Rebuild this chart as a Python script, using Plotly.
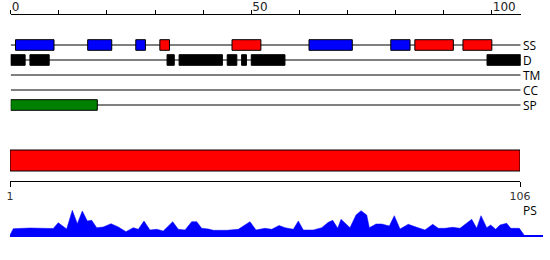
import plotly.graph_objects as go

# ---------------- data ----------------
seq_len = 106

ss_start = [1, 16, 26, 31, 46, 62, 79, 84, 94]
ss_end = [9, 21, 28, 33, 52, 71, 83, 92, 100]
ss_kind = ["B", "B", "B", "R", "R", "B", "B", "R", "R"]

d_start = [0, 4, 32.5, 35, 45, 48, 50, 99]
d_end = [3, 8, 34, 44, 47, 49, 57, 106]

sp_start = [0]
sp_end = [18]

track_names = ["SS", "D", "TM", "CC", "SP"]

domain_start = [1]
domain_end = [106]

top_tickvals = [0, 10, 20, 30, 40, 50, 60, 70, 80, 90, 100]
top_ticktext = ["0", "", "", "", "", "50", "", "", "", "", "100"]
bottom_tickvals = [1, 106]

ps_pos = [1.0, 1.68, 5.1, 8.2, 9.9, 10.94, 12.67, 13.83, 14.86, 15.89, 16.92, 17.82,
          18.85, 20.21, 21.79, 23.3, 24.88, 26.39, 27.42, 28.59, 29.82, 31.2, 32.56,
          34.5, 35.65, 37.03, 38.41, 39.44, 40.47, 41.83, 42.86, 45.62, 48.0, 50.41,
          51.65, 53.5, 54.88, 56.4, 57.62, 59.33, 60.36, 61.39, 63.45, 65.18, 66.54,
          67.44, 68.47, 69.15, 71.0, 72.24, 73.27, 74.44, 74.98, 76.36, 77.53, 79.1,
          80.12, 81.3, 83.0, 84.73, 86.44, 88.03, 89.18, 90.56, 92.14, 93.65, 96.06,
          97.09, 97.97, 99.15, 99.97, 101.0, 101.88, 103.26, 104.09, 105.86, 106.83]
ps_val = [0, 6.3, 7, 6.5, 6.5, 12.3, 6, 24.7, 11.3, 24, 14, 14.7,
          7.3, 8, 11.3, 8, 3.3, 7.3, 5.7, 14, 5, 5.7, 4,
          13.3, 5.7, 5, 13.3, 13.3, 6.7, 6, 4.7, 4.7, 5.7, 13.3,
          5, 6.7, 5.7, 9.5, 7.3, 5.7, 14, 5, 5, 7.3, 12.7,
          14.7, 6.7, 15.7, 7.3, 20, 24.3, 20, 7.3, 11, 11, 9,
          19.3, 6, 10.7, 7.7, 5, 10.7, 6.7, 6.7, 7.7, 6.7, 15.7,
          6.7, 19.3, 7.3, 10, 5.7, 10, 11.7, 6.7, 6.7, 0]

# ---------------- layout constants ----------------
W, H = 550, 260
COLORS = {"B": "#0000FF", "R": "#FF0000"}
ROW_Y = {"SS": 30, "D": 45, "TM": 60, "CC": 75, "SP": 90}
HALF = 5.3
PX_PER_RES = 510 / 105.0

fig = go.Figure()
shapes = []
annotations = []

# track lines + labels
for name in track_names:
    y = ROW_Y[name]
    shapes.append(dict(type="line", xref="x", yref="y", x0=0, x1=seq_len, y0=y, y1=y,
                       line=dict(color="black", width=1), layer="below"))
    annotations.append(dict(xref="x", yref="y", x=seq_len, y=y, text=name, showarrow=False,
                            xanchor="left", yanchor="middle", xshift=0,
                            font=dict(family="Open Sans", size=12, color="black")))

def box(x0, x1, y, fill, border):
    shapes.append(dict(type="rect", xref="x", yref="y", x0=x0, x1=x1, y0=y - HALF, y1=y + HALF,
                       fillcolor=fill, line=dict(color=border, width=1)))

for s, e, k in zip(ss_start, ss_end, ss_kind):
    box(s, e, ROW_Y["SS"], COLORS[k], "black")
for s, e in zip(d_start, d_end):
    box(s, e, ROW_Y["D"], "black", "black")
for s, e in zip(sp_start, sp_end):
    box(s, e, ROW_Y["SP"], "#008000", "black")

# full-length domain bar
for s, e in zip(domain_start, domain_end):
    shapes.append(dict(type="rect", xref="x2", yref="y2", x0=s, x1=e, y0=10, y1=31,
                       fillcolor="#FF0000", line=dict(color="black", width=1)))

# PS profile
fig.add_trace(go.Scatter(x=ps_pos, y=ps_val, mode="lines", fill="tozeroy",
                         fillcolor="#0000FF", line=dict(color="#0000FF", width=0.5),
                         xaxis="x3", yaxis="y3", hoverinfo="skip", showlegend=False))
annotations.append(dict(xref="x3", yref="y3", x=106, y=25, text="PS", showarrow=False,
                        xanchor="left", yanchor="middle", xshift=1,
                        font=dict(family="Open Sans", size=12, color="black")))

# invisible anchor traces for axes 1 and 2
fig.add_trace(go.Scatter(x=[0], y=[0], mode="markers", marker=dict(opacity=0),
                         xaxis="x", yaxis="y", hoverinfo="skip", showlegend=False))
fig.add_trace(go.Scatter(x=[1], y=[0], mode="markers", marker=dict(opacity=0),
                         xaxis="x2", yaxis="y2", hoverinfo="skip", showlegend=False))

fig.update_layout(
    width=W, height=H,
    margin=dict(l=0, r=0, t=0, b=0, autoexpand=False),
    paper_bgcolor="white", plot_bgcolor="white",
    showlegend=False,
    shapes=shapes, annotations=annotations,
    xaxis=dict(domain=[10.7 / W, 520.7 / W], range=[0, seq_len], side="top", anchor="y",
               automargin=False,
               showline=True, linecolor="black", linewidth=1, showgrid=False, zeroline=False,
               ticks="outside", ticklen=4, tickwidth=1, tickcolor="black",
               tickvals=top_tickvals, ticktext=top_ticktext, ticklabelposition="outside right",
               ticklabelstandoff=-2,
               tickfont=dict(family="DejaVu Sans", size=12, color="#222")),
    yaxis=dict(domain=[(H - 115) / H, (H - 15) / H], range=[100, 0], visible=False,
               anchor="x", automargin=False),
    xaxis2=dict(domain=[10 / W, 520 / W], range=[1, seq_len], side="bottom", anchor="y2",
                automargin=False,
                showline=True, linecolor="black", linewidth=1, showgrid=False, zeroline=False,
                ticks="outside", ticklen=5, tickwidth=1, tickcolor="black",
                tickvals=bottom_tickvals,
                tickfont=dict(family="DejaVu Sans", size=11, color="#333")),
    yaxis2=dict(domain=[(H - 181) / H, (H - 145) / H], range=[0, 36], visible=False,
                anchor="x2", automargin=False),
    xaxis3=dict(domain=[10 / W, 543 / W], range=[1, 1 + 533 / PX_PER_RES], anchor="y3",
                automargin=False,
                showline=True, linecolor="#0000FF", linewidth=1.5, showgrid=False,
                zeroline=False, showticklabels=False, ticks=""),
    yaxis3=dict(domain=[(H - 235) / H, (H - 205) / H], range=[0, 30], visible=False,
                anchor="x3", automargin=False),
)

fig.write_html("out.html")
